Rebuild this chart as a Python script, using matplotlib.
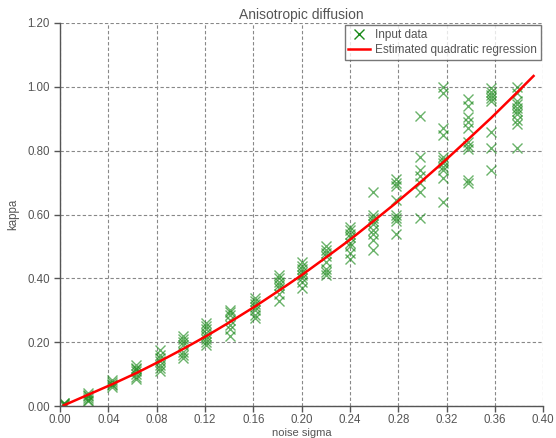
import matplotlib
matplotlib.use("Agg")
import matplotlib.pyplot as plt
from matplotlib.ticker import FormatStrFormatter, MultipleLocator

plt.rcParams['font.family'] = ['Liberation Sans', 'DejaVu Sans']

# Noise levels (one cluster of measurements per level)
sigma_levels = [0.003, 0.023, 0.043, 0.063, 0.083, 0.102, 0.121, 0.141, 0.161, 0.181,
                0.200, 0.220, 0.240, 0.259, 0.278, 0.298, 0.317, 0.338, 0.357, 0.378]

# Estimated kappa values for every noise level
kappa_samples = [
    [0.010, 0.005, 0.008, 0.003],
    [0.040, 0.035, 0.030, 0.025, 0.020, 0.015],
    [0.080, 0.075, 0.070, 0.065, 0.060],
    [0.128, 0.120, 0.115, 0.110, 0.100, 0.090, 0.085],
    [0.175, 0.160, 0.150, 0.140, 0.130, 0.120, 0.110],
    [0.220, 0.210, 0.200, 0.190, 0.170, 0.160, 0.150],
    [0.260, 0.250, 0.240, 0.230, 0.220, 0.210, 0.200, 0.190],
    [0.300, 0.295, 0.285, 0.270, 0.255, 0.240, 0.220],
    [0.340, 0.330, 0.320, 0.310, 0.300, 0.285, 0.275],
    [0.410, 0.400, 0.390, 0.380, 0.370, 0.350, 0.330],
    [0.450, 0.440, 0.430, 0.420, 0.410, 0.400, 0.390, 0.370],
    [0.500, 0.490, 0.480, 0.470, 0.450, 0.430, 0.420, 0.410],
    [0.560, 0.550, 0.540, 0.530, 0.510, 0.500, 0.480, 0.460],
    [0.670, 0.600, 0.590, 0.580, 0.570, 0.550, 0.540, 0.520, 0.490],
    [0.710, 0.700, 0.690, 0.645, 0.600, 0.590, 0.580, 0.540],
    [0.910, 0.780, 0.740, 0.720, 0.700, 0.670, 0.590],
    [1.000, 0.980, 0.870, 0.850, 0.780, 0.770, 0.760, 0.750, 0.740, 0.715, 0.640],
    [0.963, 0.940, 0.905, 0.890, 0.870, 0.828, 0.815, 0.805, 0.708, 0.700],
    [0.995, 0.985, 0.975, 0.965, 0.955, 0.860, 0.807, 0.741],
    [1.000, 0.980, 0.955, 0.945, 0.935, 0.925, 0.915, 0.895, 0.885, 0.807],
]

# Fitted quadratic regression curve
fit_sigma = [0.003, 0.023, 0.043, 0.063, 0.083, 0.102, 0.121, 0.141, 0.161, 0.181, 0.200,
             0.220, 0.240, 0.259, 0.278, 0.298, 0.317, 0.338, 0.357, 0.378, 0.392]
fit_kappa = [0.002, 0.035, 0.068, 0.103, 0.141, 0.179, 0.219, 0.264, 0.311, 0.361, 0.410,
             0.465, 0.521, 0.578, 0.636, 0.700, 0.763, 0.836, 0.903, 0.981, 1.034]

xs = [s for s, ks in zip(sigma_levels, kappa_samples) for _ in ks]
ys = [k for ks in kappa_samples for k in ks]

text_gray = '#555555'

fig = plt.figure(figsize=(5.56, 4.38), dpi=100)
ax = fig.add_axes([0.108, 0.073, 0.869, 0.8745])

ax.plot(xs, ys, linestyle='none', marker='x', markersize=7, markeredgewidth=1.0,
        color='#1a8a1a', alpha=0.65, label='Input data')
ax.plot(fit_sigma, fit_kappa, color='red', linewidth=1.8, label='Estimated quadratic regression')

ax.set_xlim(0.0, 0.40)
ax.set_ylim(0.0, 1.20)
ax.xaxis.set_major_locator(MultipleLocator(0.04))
ax.yaxis.set_major_locator(MultipleLocator(0.20))
ax.xaxis.set_major_formatter(FormatStrFormatter('%.2f'))
ax.yaxis.set_major_formatter(FormatStrFormatter('%.2f'))

ax.grid(True, linestyle=(0, (3, 2)), color='#888888', linewidth=0.8)
ax.set_axisbelow(True)

for side in ('top', 'right'):
    ax.spines[side].set_visible(False)
for side in ('left', 'bottom'):
    ax.spines[side].set_color('#555555')
    ax.spines[side].set_linewidth(1.0)

ax.tick_params(axis='both', direction='out', length=4, width=1, colors='#555555',
               labelcolor=text_gray, labelsize=8.3, top=False, right=False)
ax.tick_params(axis='x', pad=2)

ax.set_title('Anisotropic diffusion', color=text_gray, fontsize=10, pad=3)
ax.set_xlabel('noise sigma', color=text_gray, fontsize=8)
ax.xaxis.set_label_coords(0.5, -0.058)
ax.set_ylabel('kappa', color=text_gray, fontsize=8.3)
ax.yaxis.set_label_coords(-0.085, 0.5)

leg = ax.legend(loc='upper right', fontsize=8.5, frameon=True, fancybox=False,
                borderaxespad=0.2, handlelength=1.8, borderpad=0.3, labelspacing=0.3,
                handletextpad=0.5)
leg.get_frame().set_edgecolor('#555555')
leg.get_frame().set_linewidth(1.0)
for t in leg.get_texts():
    t.set_color(text_gray)
for h in leg.legend_handles:
    h.set_alpha(1.0)

fig.savefig('out.png', dpi=100)
